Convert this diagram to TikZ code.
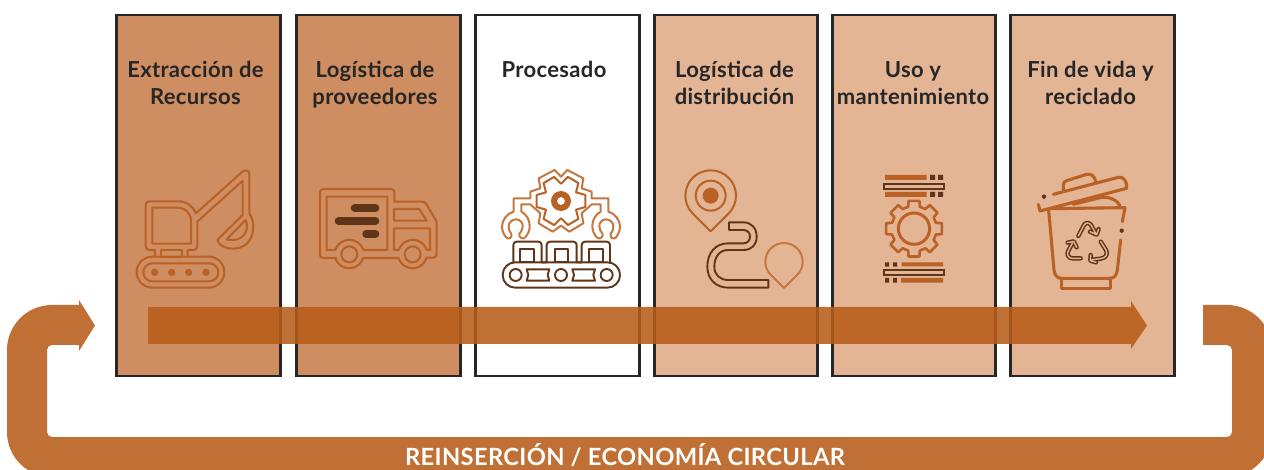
\documentclass[tikz,border=0pt]{standalone}
\usepackage{fontspec}
\setmainfont[LetterSpace=1.5]{Lato}
\definecolor{ink}{HTML}{262626}
\definecolor{bxA}{HTML}{CF8E62}
\definecolor{bxB}{HTML}{E3B595}
\definecolor{arrowc}{HTML}{B75D19}
\definecolor{loopc}{HTML}{C07035}
\definecolor{orng}{HTML}{BA6125}
\definecolor{brwn}{HTML}{5E3519}
\definecolor{lite}{HTML}{C5773F}
\tikzset{
  stage/.style={draw=ink,line width=2.4pt,minimum height=361pt,inner sep=0pt,outer sep=0pt},
  title/.style={align=center,text=ink,font=\fontsize{22}{27}\selectfont\bfseries,inner sep=0pt},
  ic/.style={draw=orng,line width=2.1pt,line join=round,line cap=round},
  ib/.style={draw=brwn,line width=1.9pt,line join=round,line cap=round},
  io/.style={draw=#1,line width=2pt,line join=round,line cap=round},
  iconA/.style={shift={(#1)},x=0.33333pt,y=-0.33333pt},
  recy/.style={draw=brwn,double=bxB,double distance=1.4pt,line width=1.5pt,line join=round,line cap=round},
}
\begin{document}
\begin{tikzpicture}[x=1pt,y=-1pt]
\clip (0,0) rectangle (1264,470);
\fill[white] (0,0) rectangle (1264,470);
% stages
\node[stage,fill=bxA,minimum width=164pt] (s1) at (198.5,195.5) {};
\node[stage,fill=bxA,minimum width=164pt] (s2) at (378.5,195.5) {};
\node[stage,fill=white,minimum width=164pt] (s3) at (557.5,195.5) {};
\node[stage,fill=bxB,minimum width=163pt] (s4) at (736,195.5) {};
\node[stage,fill=bxB,minimum width=163pt] (s5) at (914,195.5) {};
\node[stage,fill=bxB,minimum width=164pt] (s6) at (1092.5,195.5) {};
% titles
\node[title] (t1) at (195.5,85.5) {\strut Extracción de\\\strut Recursos};
\node[title] (t2) at (375,85.5) {\strut Logística de\\\strut proveedores};
\node[title] (t3) at (554,72) {\strut Procesado};
\node[title] (t4) at (734.5,85.5) {\strut Logística de\\\strut distribución};
\node[title] (t5) at (913,85.5) {\strut Uso y\\\strut mantenimiento};
\node[title] (t6) at (1090.5,85.5) {\strut Fin de vida y\\\strut reciclado};
% excavator
\begin{scope}[iconA={110,160}]
\draw[ic] (135,290) -- (135,270) -- (118,270) .. controls (111,270) and (107,266) .. (107,258) -- (107,135) .. controls (107,128) and (111,124) .. (118,124) -- (205,124) .. controls (230,124) and (250,140) .. (258,160) -- (395,37) .. controls (405,28) and (418,30) .. (418,42) -- (418,160) .. controls (440,190) and (435,266) .. (368,266) .. controls (345,266) and (325,255) .. (322,240) -- (398,165) -- (398,62) -- (262,185) -- (262,258) .. controls (262,266) and (258,270) .. (250,270) -- (233,270) -- (233,290);
\draw[ic] (127,143) -- (200,143) .. controls (235,143) and (243,170) .. (243,180) -- (243,251) -- (127,251) -- cycle;
\draw[ic] (350,238) -- (407,180) .. controls (420,210) and (400,250) .. (350,238) -- cycle;
\draw[ic] (153,270) rectangle (217,291);
\draw[ic,rounded corners=15.5pt] (80,290) rectangle (343,383);
\draw[ic,rounded corners=9pt] (100,310) rectangle (325,364);
\foreach \xx in {134,185,236,288} \fill[orng] (\xx,337) circle[radius=11];
% truck
\draw[ic] (678,294) -- (640,294) .. controls (634,294) and (630,290) .. (630,285) -- (630,97) .. controls (630,91) and (634,87) .. (640,87) -- (843,87) .. controls (849,87) and (853,91) .. (853,97) -- (853,125) -- (935,125) .. controls (942,125) and (946,127) .. (949,132) -- (980,185) -- (980,283) .. controls (980,289) and (976,293) .. (970,293) -- (950,293);
\draw[ic] (676,294) arc[start angle=163,end angle=17,radius=43.5] -- (866,294) arc[start angle=163,end angle=17,radius=43.5];
\draw[ic] (677,270) -- (650,270) -- (650,110) -- (832,110) -- (832,270) -- (760,270) arc[start angle=342,end angle=198,radius=44];
\draw[ic] (866,270) -- (852,270) -- (852,205) -- (960,205) -- (960,270) -- (950,270) arc[start angle=342,end angle=198,radius=44];
\draw[ic] (852,147) -- (928,147) -- (950,182) -- (852,182) -- cycle;
\draw[ic] (718,283) circle[radius=24];
\draw[ic] (908,283) circle[radius=24];
\draw[brwn,line width=7.3pt,line cap=round] (733,144) -- (797,144);
\draw[brwn,line width=7.3pt,line cap=round] (685,183) -- (797,183);
\draw[brwn,line width=7.3pt,line cap=round] (768,222) -- (797,222);
\end{scope}
% processing
\begin{scope}[iconA={480,160}]
\foreach \sgn/\sh in {1/0,-1/486}{
\begin{scope}[shift={(\sh,0)},xscale=\sgn]
\draw[io=lite] (243,50) -- (262,30) -- (310,55) -- (305,85) -- (335,95) -- (335,115) -- (385,115) -- (385,155) .. controls (405,160) and (420,180) .. (420,200) .. controls (420,215) and (413,225) .. (407,233) .. controls (400,240) and (388,232) .. (392,222) .. controls (398,215) and (400,207) .. (400,198) .. controls (400,188) and (390,178) .. (378,178) .. controls (366,178) and (358,188) .. (358,198) .. controls (358,207) and (362,215) .. (368,222) .. controls (370,232) and (358,240) .. (350,232) .. controls (342,222) and (337,212) .. (337,198) .. controls (337,178) and (348,162) .. (362,155) -- (362,133) -- (335,133) -- (305,160) -- (310,190) -- (268,215) -- (243,197);
\end{scope}}
\begin{scope}[shift={(243,123)}]
\draw[io=orng] (-14:75) \foreach \a in {0,60,...,300}{ -- (\a-14:75) -- (\a+14:75) -- (\a+30:52)} -- cycle;
\fill[orng,even odd rule] (0,0) circle[radius=30] (0,0) circle[radius=12];
\end{scope}
\draw[ib] (100,307) -- (100,255) .. controls (100,249) and (104,245) .. (110,245) -- (175,245) .. controls (181,245) and (185,249) .. (185,255) -- (185,307) -- (200,307) -- (200,255) .. controls (200,249) and (204,245) .. (210,245) -- (280,245) .. controls (286,245) and (290,249) .. (290,255) -- (290,307) -- (305,307) -- (305,255) .. controls (305,249) and (309,245) .. (315,245) -- (380,245) .. controls (386,245) and (390,249) .. (390,255) -- (390,307);
\draw[ib] (120,267) rectangle (163,307);
\draw[ib] (225,267) rectangle (265,307);
\draw[ib] (326,267) rectangle (368,307);
\draw[ib,rounded corners=12.5pt] (68,307) rectangle (420,383);
\draw[ib] (107,345) circle[radius=18];
\draw[ib] (243,345) circle[radius=18];
\draw[ib] (380,345) circle[radius=18];
\draw[ib] (140,328) -- (208,328) -- (203,345) -- (208,362) -- (140,362) -- (145,345) -- cycle;
\draw[ib] (277,328) -- (345,328) -- (340,345) -- (345,362) -- (277,362) -- (282,345) -- cycle;
% pins and road
\draw[io=orng] (692,214) -- (638.3,160.7) arc[start angle=135,end angle=405,radius=76] -- cycle;
\draw[io=orng] (692,107) circle[radius=45];
\fill[orng] (692,107) circle[radius=24];
\draw[io=lite] (912,384) -- (872.4,344.6) arc[start angle=135,end angle=405,radius=56] -- cycle;
\draw[ib] (747,187) -- (790,187) .. controls (815,187) and (830,205) .. (830,230) .. controls (830,255) and (815,270) .. (790,270) -- (745,270) .. controls (715,270) and (703,295) .. (703,320) .. controls (703,345) and (720,360) .. (745,360) -- (865,360) -- (865,383) -- (745,383) .. controls (705,383) and (682,355) .. (682,320) .. controls (682,280) and (705,250) .. (745,250) -- (790,250) .. controls (802,250) and (810,242) .. (810,230) .. controls (810,218) and (802,210) .. (790,210) -- (747,210) -- cycle;
\end{scope}
% gear and bars
\begin{scope}[iconA={860,160}]
\fill[orng] (75,45) rectangle (200,60) (75,96) rectangle (200,111);
\fill[brwn] (210,45) rectangle (225,60) (234,45) rectangle (249,60) (210,96) rectangle (225,111) (234,96) rectangle (249,111);
\draw[brwn,line width=2.1pt] (73,71) rectangle (251,86);
\fill[orng] (125,307) rectangle (249,319) (123,354) rectangle (249,368);
\fill[brwn] (75,307) rectangle (87,320) (99,307) rectangle (111,320) (75,354) rectangle (87,368) (99,354) rectangle (111,368);
\draw[brwn,line width=2.1pt] (73,329) rectangle (251,346);
\begin{scope}[shift={(162,206)}]
\draw[orng,line width=2.6pt,line join=round] (-11:85) \foreach \a in {0,45,...,315}{ -- (\a-11:85) -- (\a+11:85) -- (\a+15:68) -- (\a+30:68)} -- cycle;
\draw[orng,line width=3pt] (0,0) circle[radius=47];
\end{scope}
% trash
\begin{scope}
\tikzset{tr/.style={draw=orng,line width=3.1pt,line cap=round,line join=round}}
\draw[tr] (580,103) -- (775,52) .. controls (790,48) and (802,65) .. (800,85) -- (540,153) -- (535,133);
\draw[tr] (610,90) -- (610,75) .. controls (610,68) and (613,64) .. (620,62) -- (680,43) .. controls (695,40) and (705,50) .. (707,65);
\draw[tr] (640,133) -- (720,113) .. controls (745,108) and (775,120) .. (780,140);
\draw[tr] (570,146) -- (795,143) -- (787,185);
\draw[tr] (782,240) -- (772,330) .. controls (770,347) and (762,355) .. (748,355) -- (605,355) .. controls (592,355) and (584,347) .. (582,330) -- (566,150);
\draw[tr,line width=2.6pt] (605,355) -- (605,385) -- (752,385) -- (752,355);
\fill[brwn] (552,110) circle[radius=6.5] (785,212) circle[radius=6.5];
\draw[recy] (655,228) -- (672,195) .. controls (677,187) and (688,187) .. (693,195) -- (708,222) (690,215) -- (710,224) -- (716,207);
\draw[recy] (662,295) -- (637,295) .. controls (625,295) and (619,283) .. (625,272) -- (637,250) (623,248) -- (641,244) -- (650,262);
\draw[recy] (696,299) -- (722,296) .. controls (738,294) and (745,282) .. (738,270) -- (722,245) (692,285) -- (691,302) -- (708,307);
\end{scope}
\end{scope}
% centre arrow
\fill[arrowc,opacity=0.88] (148,307) -- (1131,307) -- (1131,301) -- (1147,325.5) -- (1131,349) -- (1131,344) -- (148,344) -- cycle;
% loop
\fill[loopc] (79,305) -- (52,305) arc[start angle=270,end angle=180,radius=45] -- (7,432) arc[start angle=180,end angle=90,radius=45] -- (1227,477) arc[start angle=90,end angle=0,radius=45] -- (1272,350) arc[start angle=0,end angle=-90,radius=45] -- (1203,305) -- (1203,345) -- (1227,345) arc[start angle=-90,end angle=0,radius=5] -- (1232,432) arc[start angle=0,end angle=90,radius=5] -- (52,437) arc[start angle=90,end angle=180,radius=5] -- (47,350) arc[start angle=180,end angle=270,radius=5] -- (79,345) -- cycle;
\fill[loopc] (79,300) -- (95,325.5) -- (79,351) -- cycle;
\node[text=white,font=\fontsize{23.7}{28}\selectfont\bfseries,inner sep=0pt,anchor=base] (lbl) at (625,465.5) {REINSERCIÓN / ECONOMÍA CIRCULAR};
\end{tikzpicture}
\end{document}
